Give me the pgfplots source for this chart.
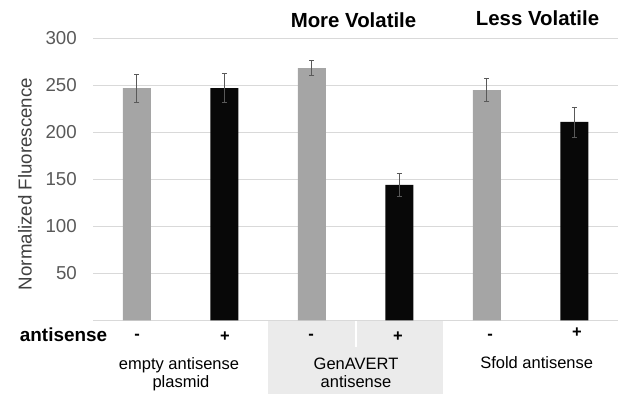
\documentclass[border=0pt]{standalone}
\usepackage{pgfplots}
\pgfplotsset{compat=1.18}
\usepackage{fontspec}
\setmainfont{Liberation Sans}
\definecolor{bargray}{HTML}{A5A5A5}
\definecolor{barblack}{HTML}{080808}
\definecolor{gridc}{HTML}{D9D9D9}
\definecolor{tickc}{HTML}{595959}
\definecolor{labelc}{HTML}{404040}
\definecolor{errc}{HTML}{595959}
\definecolor{boxc}{HTML}{EBEBEB}
\pgfplotstableread{
x y e
0 247 15
2 268.4 8
4 245 12
}\minusdata
\pgfplotstableread{
x y e
1 247 15.5
3 144 12
5 211 16
}\plusdata
\begin{document}
\begin{tikzpicture}[x=1pt,y=1pt]
\path[use as bounding box] (0,0) rectangle (618,394);
\fill[boxc] (268,0) rectangle (443,73.5);
\draw[white, line width=2pt] (355.5,73.5) -- (355.5,47);
\begin{axis}[
  at={(93pt,73.7pt)}, anchor=south west,
  scale only axis, width=525pt, height=282pt,
  xmin=-0.5, xmax=5.5, ymin=0, ymax=300,
  ytick={50,100,...,300}, xtick=\empty,
  ymajorgrids, grid style={gridc, line width=0.8pt},
  axis line style={draw=none},
  major tick length=0pt,
  /pgf/number format/assume math mode=true,
  yticklabel style={font=\fontsize{18.7}{20}\selectfont, text=tickc, inner sep=0pt, xshift=-16pt},
  ybar, bar width=28pt,
  clip=false,
]
\draw[gridc, line width=0.8pt] (axis cs:-0.5,0) -- (axis cs:5.5,0);
\addplot[bar shift=0pt, fill=bargray, draw=none,
  error bars/.cd, y dir=both, y explicit,
  error bar style={errc, line width=0.8pt},
  error mark=-,
  error mark options={rotate=90, errc, mark size=2.5pt, line width=0.8pt}]
  table[x=x, y=y, y error=e] {\minusdata};
\addplot[bar shift=0pt, fill=barblack, draw=none,
  error bars/.cd, y dir=both, y explicit,
  error bar style={errc, line width=0.8pt},
  error mark=-,
  error mark options={rotate=90, errc, mark size=2.5pt, line width=0.8pt}]
  table[x=x, y=y, y error=e] {\plusdata};
\end{axis}
% y label
\node[rotate=90, text=labelc, font=\fontsize{18.7}{20}\selectfont, inner sep=0pt] at (25,210) {Normalized Fluorescence};
% titles
\node[anchor=base, inner sep=0pt, font=\fontsize{20.4}{22}\selectfont\bfseries] at (353.5,366.7) {More Volatile};
\node[anchor=base, inner sep=0pt, font=\fontsize{20.4}{22}\selectfont\bfseries] at (537.5,368.2) {Less Volatile};
% table row
\node[anchor=base, inner sep=0pt, font=\fontsize{18.9}{20}\selectfont\bfseries] at (63.5,53) {antisense};
\foreach \xx in {137,311,490} {\node[inner sep=0pt, font=\fontsize{16.5}{18}\selectfont\bfseries] at (\xx,57) {-};}
\foreach \xx/\yy in {225/57.3,398/57.3,577/61} {\node[inner sep=0pt, font=\fontsize{16.5}{18}\selectfont\bfseries] at (\xx,\yy) {+};}
\node[anchor=base, inner sep=0pt, font=\fontsize{16.5}{18}\selectfont] at (179,25) {empty antisense};
\node[anchor=base, inner sep=0pt, font=\fontsize{16.5}{18}\selectfont] at (181,6.5) {plasmid};
\node[anchor=base, inner sep=0pt, font=\fontsize{16.5}{18}\selectfont] at (356,25) {GenAVERT};
\node[anchor=base, inner sep=0pt, font=\fontsize{16.5}{18}\selectfont] at (356,6.5) {antisense};
\node[anchor=base, inner sep=0pt, font=\fontsize{16.5}{18}\selectfont] at (536.7,26) {Sfold antisense};
\end{tikzpicture}
\end{document}
